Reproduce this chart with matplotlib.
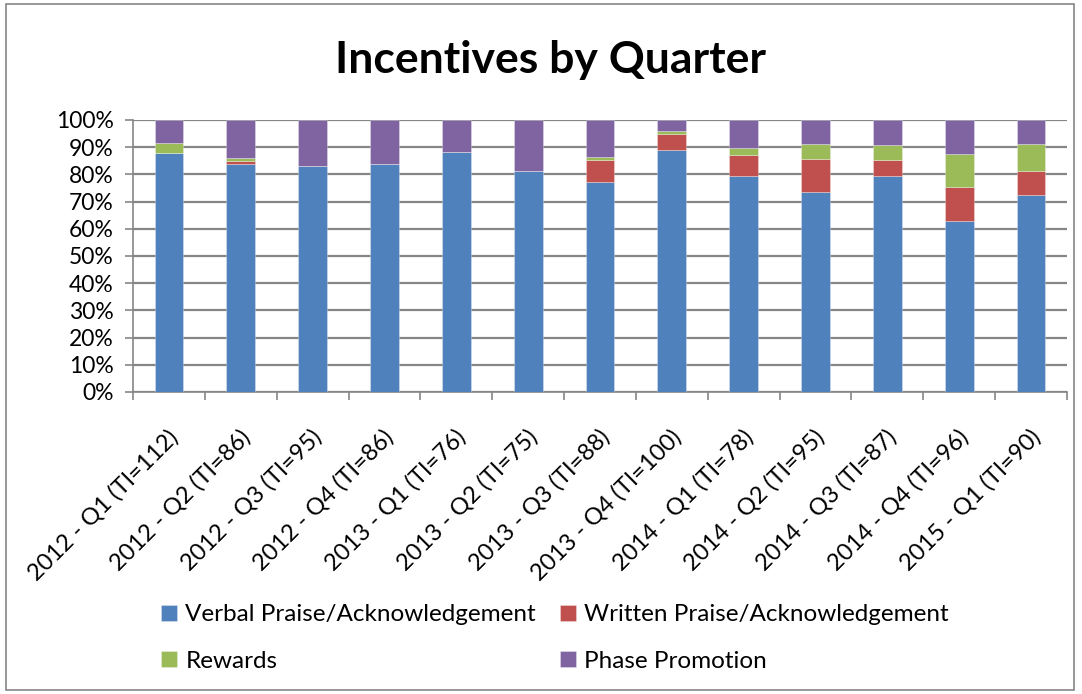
import numpy as np
import matplotlib.pyplot as plt
from matplotlib.patches import Rectangle
from matplotlib.ticker import PercentFormatter

plt.rcParams['font.family'] = ['Lato', 'DejaVu Sans']

## data (share of incentives per quarter, %)
quarters = ["2012 - Q1 (TI=112)", "2012 - Q2 (TI=86)", "2012 - Q3 (TI=95)",
            "2012 - Q4 (TI=86)", "2013 - Q1 (TI=76)", "2013 - Q2 (TI=75)",
            "2013 - Q3 (TI=88)", "2013 - Q4 (TI=100)", "2014 - Q1 (TI=78)",
            "2014 - Q2 (TI=95)", "2014 - Q3 (TI=87)", "2014 - Q4 (TI=96)",
            "2015 - Q1 (TI=90)"]
verbal = [88.0, 83.7, 83.2, 83.7, 88.2, 81.3, 77.3, 89.0, 79.5, 73.5, 79.4, 62.7, 72.3]
written = [0.0, 1.2, 0.0, 0.0, 0.0, 0.0, 8.0, 6.0, 7.7, 12.2, 5.8, 12.5, 8.8]
rewards = [3.5, 1.2, 0.0, 0.0, 0.0, 0.0, 1.1, 1.0, 2.6, 5.6, 5.6, 12.4, 10.1]
phase = [8.5, 13.9, 16.8, 16.3, 11.8, 18.7, 13.6, 4.0, 10.2, 8.7, 9.2, 12.4, 8.8]

series = [("Verbal Praise/Acknowledgement", verbal, "#4F81BD"),
          ("Written Praise/Acknowledgement", written, "#C0504D"),
          ("Rewards", rewards, "#9BBB59"),
          ("Phase Promotion", phase, "#8064A2")]

fig = plt.figure(figsize=(10.82, 6.94), dpi=100)
ax = fig.add_axes([133/1082, 1-392/694, (1067-133)/1082, (392-120)/694])

x = np.arange(len(quarters))
bottom = np.zeros(len(quarters))
handles = []
for name, vals, col in series:
    b = ax.bar(x, vals, 0.4, bottom=bottom, color=col, label=name, zorder=3,
               edgecolor=(1, 1, 1, 0.35), linewidth=0.6)
    handles.append(b)
    bottom += np.array(vals)

ax.set_ylim(0, 100)
ax.set_xlim(-0.5, len(quarters) - 0.5)
ax.set_yticks(np.arange(0, 101, 10))
ax.yaxis.set_major_formatter(PercentFormatter(decimals=0))
ax.yaxis.grid(True, color="#868686", linewidth=1.6, zorder=0)
ax.tick_params(axis="y", labelsize=16.5, length=6, color="#868686", width=1.2, pad=8)

# category boundaries get the tick marks, labels sit (slightly right of) the middle
ax.set_xticks(np.arange(-0.5, len(quarters)), labels=[])
ax.set_xticks(x + 0.08, labels=quarters, minor=True)
ax.tick_params(axis="x", which="major", length=6, color="#868686", width=1.2)
ax.tick_params(axis="x", which="minor", length=0, labelsize=17, pad=30)
for lbl in ax.get_xticklabels(minor=True):
    lbl.set_rotation(45)
    lbl.set_ha("right")
    lbl.set_va("center")
    lbl.set_rotation_mode("anchor")

for s in ["top", "right"]:
    ax.spines[s].set_visible(False)
for s in ["left", "bottom"]:
    ax.spines[s].set_color("#868686")
    ax.spines[s].set_linewidth(1.2)

fig.suptitle("Incentives by Quarter", x=0.509, y=1-60/694, va="center",
             fontsize=32, fontweight="bold")

# legend filled row by row: verbal, written / rewards, phase
order = [0, 2, 1, 3]
fig.legend(handles=[handles[i] for i in order], labels=[series[i][0] for i in order],
           ncol=2, loc="center", bbox_to_anchor=(0.513, 1-638/694), frameon=False,
           fontsize=17.5, handlelength=0.63, handleheight=0.63, handletextpad=0.35,
           columnspacing=1.0, labelspacing=1.05)

# chart area border
fig.add_artist(Rectangle((6/1082, 4/694), 1068/1082, 686/694, transform=fig.transFigure,
                         fill=False, edgecolor="#868686", linewidth=1.2))

fig.savefig("out.png", dpi=100)
